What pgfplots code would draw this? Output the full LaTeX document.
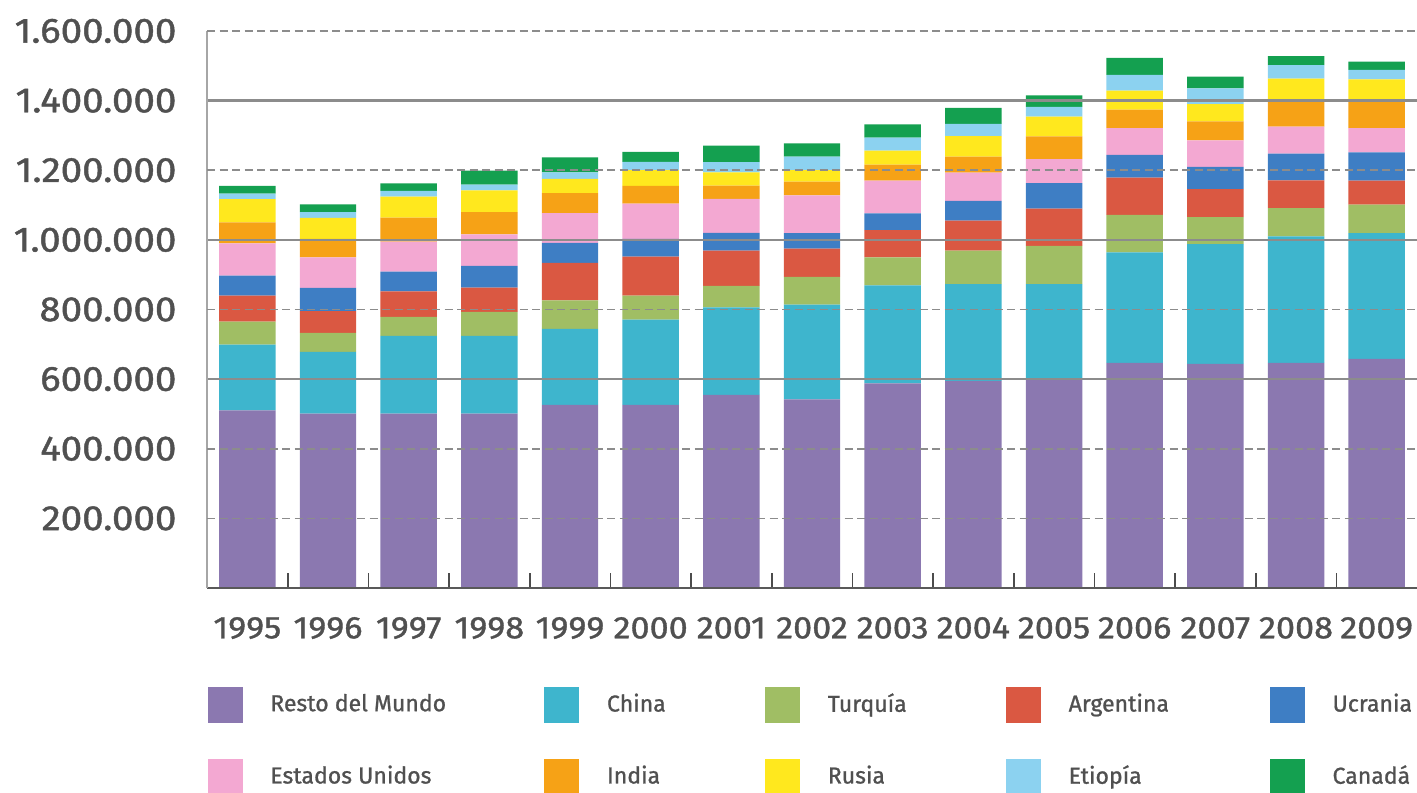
\documentclass[border=0pt]{standalone}
\usepackage{fontspec}
\setmainfont{Fira Sans}
\newfontfamily\axisfont[FakeStretch=1.1, FakeBold=1.2]{Fira Sans}
\newfontfamily\legfont[FakeBold=1.0]{Fira Sans}
\usepackage{pgfplots}
\usepackage{pgfplotstable}
\pgfplotsset{compat=1.18}

\definecolor{cResto}{RGB}{139,120,176}
\definecolor{cChina}{RGB}{62,181,205}
\definecolor{cTurquia}{RGB}{160,190,100}
\definecolor{cArgentina}{RGB}{218,88,66}
\definecolor{cUcrania}{RGB}{62,126,196}
\definecolor{cEEUU}{RGB}{243,168,210}
\definecolor{cIndia}{RGB}{246,162,22}
\definecolor{cRusia}{RGB}{255,232,30}
\definecolor{cEtiopia}{RGB}{140,210,240}
\definecolor{cCanada}{RGB}{20,160,80}
\definecolor{txt}{RGB}{80,80,80}

% Producción por país y año (x = 0 ... 14 para 1995 ... 2009)
\pgfplotstableread{
x  Resto  China  Turquia Argentina Ucrania EEUU   India  Rusia  Etiopia Canada
0  510000 189000 66000   75000     57000   93000  60000  67000  16000   22000
1  501000 177000 55000   62000     67000   88000  53000  60000  17000   22000
2  501000 223000 55000   73000     57000   86000  69000  60000  17000   21000
3  501000 223000 69000   70000     62000   91000  64000  62000  17000   40000
4  526000 218000 82000   108000    57000   86000  57000  41000  19000   43000
5  526000 245000 69000   112000    51000   101000 51000  45000  24000   29000
6  555000 251000 62000   101000    51000   98000  38000  38000  29000   48000
7  542000 272000 80000   81000     44000   109000 39000  33000  39000   38000
8  588000 281000 81000   78000     48000   94000  46000  40000  38000   38000
9  595000 278000 96000   86000     57000   81000  46000  59000  35000   46000
10 598000 275000 110000  107000    73000   69000  65000  57000  28000   33000
11 647000 317000 108000  107000    65000   77000  53000  55000  45000   49000
12 644000 344000 77000   81000     64000   76000  54000  50000  45000   34000
13 647000 363000 81000   80000     77000   77000  78000  60000  39000   26000
14 658000 361000 82000   69000     81000   70000  80000  60000  27000   24000
}\datos

\pgfplotsset{
  sq/.style={legend image code/.code={\fill[##1] (0pt,-6.5pt) rectangle (12.6pt,6.5pt);}},
}

\begin{document}
\begin{tikzpicture}
\path[use as bounding box] (0pt,0pt) rectangle (510.12pt,285.48pt);
\begin{axis}[
  at={(74.52pt,73.8pt)}, anchor=south west,
  scale only axis, width=435.6pt, height=200.52pt,
  ybar stacked, bar width=0.7,
  xmin=-0.5, xmax=14.5, ymin=0, ymax=1600000,
  scaled y ticks=false,
  axis x line*=bottom, axis y line*=left,
  x axis line style={draw=black!65, line width=0.8pt},
  y axis line style={draw=black!35, line width=0.6pt},
  axis on top,
  xtick={0,...,14},
  xticklabels={1995,1996,1997,1998,1999,2000,2001,2002,2003,2004,2005,2006,2007,2008,2009},
  minor xtick={0.5,1.5,...,13.5},
  major tick length=0pt, minor tick length=5.4pt, tick align=inside,
  minor x tick style={draw=black!70, line width=0.6pt},
  ytick={600000,1000000,1400000},
  yticklabels={600.000,1.000.000,1.400.000},
  extra y ticks={200000,400000,800000,1200000,1600000},
  extra y tick labels={200.000,400.000,800.000,1.200.000,1.600.000},
  ymajorgrids,
  major grid style={draw=black!45, line width=0.8pt},
  extra y tick style={major grid style={draw=black!45, line width=0.6pt, dash pattern=on 3pt off 1.5pt}},
  yticklabel style={font=\axisfont\fontsize{12.6}{14}\selectfont, text=txt, inner sep=0pt, anchor=east, xshift=-10.8pt},
  xticklabel style={font=\axisfont\fontsize{11.2}{13}\selectfont, text=txt, inner sep=0pt, anchor=north, yshift=-10.3pt},
  legend columns=5,
  legend cell align=left,
  legend style={at={(0,-0.176)}, anchor=north west, draw=none, fill=none, inner sep=0pt,
    row sep=12.9pt, column sep=0pt, nodes={inner sep=0pt, text=txt, font=\legfont\fontsize{8.3}{10}\selectfont},
    /tikz/every odd column/.append style={column sep=10pt}},
]
\addplot[fill=cResto, draw=none, sq] table[x=x, y=Resto] {\datos};
\addlegendentry{\makebox[98.6pt][l]{Resto del Mundo}}
\addplot[fill=cChina, draw=none, sq] table[x=x, y=China] {\datos};
\addlegendentry{\makebox[56.9pt][l]{China}}
\addplot[fill=cTurquia, draw=none, sq] table[x=x, y=Turquia] {\datos};
\addlegendentry{\makebox[64.1pt][l]{Turquía}}
\addplot[fill=cArgentina, draw=none, sq] table[x=x, y=Argentina] {\datos};
\addlegendentry{\makebox[72.4pt][l]{Argentina}}
\addplot[fill=cUcrania, draw=none, sq] table[x=x, y=Ucrania] {\datos};
\addlegendentry{\makebox[60pt][l]{Ucrania}}
\addplot[fill=cEEUU, draw=none, sq] table[x=x, y=EEUU] {\datos};
\addlegendentry{\makebox[98.6pt][l]{Estados Unidos}}
\addplot[fill=cIndia, draw=none, sq] table[x=x, y=India] {\datos};
\addlegendentry{\makebox[56.9pt][l]{India}}
\addplot[fill=cRusia, draw=none, sq] table[x=x, y=Rusia] {\datos};
\addlegendentry{\makebox[64.1pt][l]{Rusia}}
\addplot[fill=cEtiopia, draw=none, sq] table[x=x, y=Etiopia] {\datos};
\addlegendentry{\makebox[72.4pt][l]{Etiopía}}
\addplot[fill=cCanada, draw=none, sq] table[x=x, y=Canada] {\datos};
\addlegendentry{\makebox[60pt][l]{Canadá}}
\end{axis}
\end{tikzpicture}
\end{document}
